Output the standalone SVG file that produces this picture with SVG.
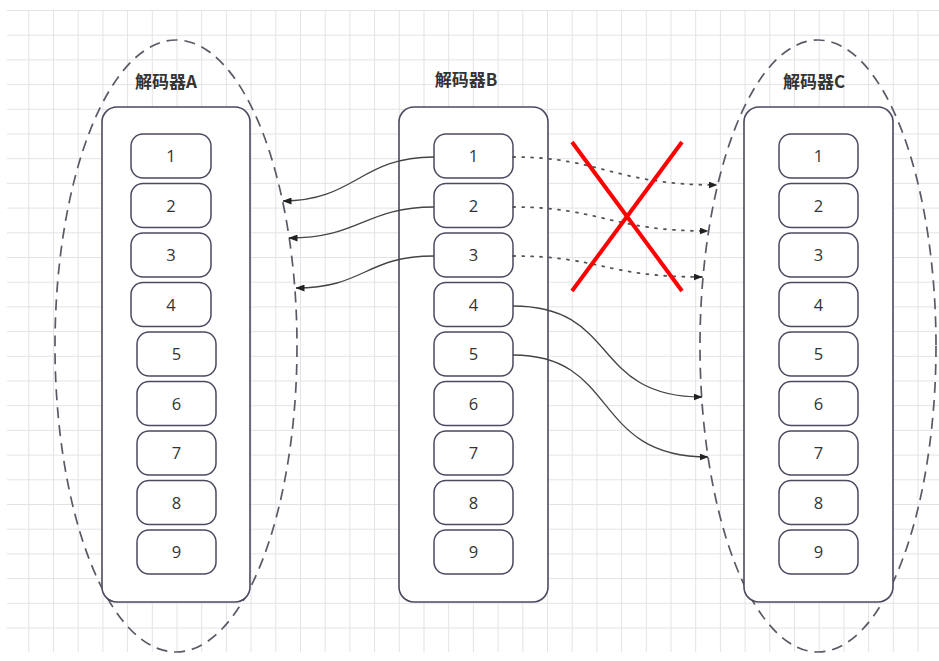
<svg xmlns="http://www.w3.org/2000/svg" width="939" height="661" viewBox="0 0 939 661">
<style>
.ell{fill:none;stroke:#5a5a66;stroke-width:1.7;stroke-dasharray:11 7}
.box{fill:#fff;stroke:#4a4a60;stroke-width:1.6}
.item{fill:#fff;stroke:#4a4a60;stroke-width:1.5}
.num{font-family:"Open Sans","Noto Sans",sans-serif;font-size:16.5px;fill:#333;text-anchor:middle}
.title{font-family:"Noto Sans CJK SC","Noto Sans",sans-serif;font-size:17px;font-weight:bold;fill:#333;text-anchor:middle}
.con{fill:none;stroke:#444;stroke-width:1.3}
.dot{fill:none;stroke:#555;stroke-width:1.8;stroke-dasharray:2 7;stroke-linecap:round}
.x{stroke:#f00;stroke-width:4}
</style>
<defs>
<pattern id="grid" x="3.6" y="10" width="24.7" height="24.7" patternUnits="userSpaceOnUse">
<path d="M0,0.5 H24.7 M0.5,0 V24.7" fill="none" stroke="#e3e3e6" stroke-width="1"/>
</pattern>
<marker id="arr" markerWidth="9" markerHeight="7" refX="8.5" refY="3.5" orient="auto" markerUnits="userSpaceOnUse">
<path d="M0,0 L9,3.5 L0,7 z" fill="#222"/>
</marker>
</defs>
<rect width="939" height="661" fill="#fff"/>
<rect x="7" y="10" width="932" height="642" fill="url(#grid)"/>

<g id="decoderA">
<ellipse class="ell" cx="176" cy="346" rx="121" ry="306"/>
<rect class="box" x="102" y="107" width="148" height="495" rx="15"/>
<text class="title" x="166" y="88">解码器A</text>
<rect class="item" x="131" y="134" width="80" height="44" rx="12"/><text class="num" x="171" y="162">1</text>
<rect class="item" x="131" y="183.5" width="80" height="44" rx="12"/><text class="num" x="171" y="211.5">2</text>
<rect class="item" x="131" y="233" width="80" height="44" rx="12"/><text class="num" x="171" y="261">3</text>
<rect class="item" x="131" y="282.5" width="80" height="44" rx="12"/><text class="num" x="171" y="310.5">4</text>
<rect class="item" x="137" y="332" width="79" height="44" rx="12"/><text class="num" x="176.5" y="360">5</text>
<rect class="item" x="137" y="381.5" width="79" height="44" rx="12"/><text class="num" x="176.5" y="409.5">6</text>
<rect class="item" x="137" y="431" width="79" height="44" rx="12"/><text class="num" x="176.5" y="459">7</text>
<rect class="item" x="137" y="480.5" width="79" height="44" rx="12"/><text class="num" x="176.5" y="508.5">8</text>
<rect class="item" x="137" y="530" width="79" height="44" rx="12"/><text class="num" x="176.5" y="558">9</text>
</g>

<g id="decoderB">
<rect class="box" x="399" y="107" width="149" height="495" rx="15"/>
<text class="title" x="466" y="86">解码器B</text>
<rect class="item" x="434" y="134" width="79" height="44" rx="12"/><text class="num" x="473.5" y="162">1</text>
<rect class="item" x="434" y="183.5" width="79" height="44" rx="12"/><text class="num" x="473.5" y="211.5">2</text>
<rect class="item" x="434" y="233" width="79" height="44" rx="12"/><text class="num" x="473.5" y="261">3</text>
<rect class="item" x="434" y="282.5" width="79" height="44" rx="12"/><text class="num" x="473.5" y="310.5">4</text>
<rect class="item" x="434" y="332" width="79" height="44" rx="12"/><text class="num" x="473.5" y="360">5</text>
<rect class="item" x="434" y="381.5" width="79" height="44" rx="12"/><text class="num" x="473.5" y="409.5">6</text>
<rect class="item" x="434" y="431" width="79" height="44" rx="12"/><text class="num" x="473.5" y="459">7</text>
<rect class="item" x="434" y="480.5" width="79" height="44" rx="12"/><text class="num" x="473.5" y="508.5">8</text>
<rect class="item" x="434" y="530" width="79" height="44" rx="12"/><text class="num" x="473.5" y="558">9</text>
</g>

<g id="decoderC">
<ellipse class="ell" cx="818" cy="346" rx="118" ry="306"/>
<rect class="box" x="744" y="107" width="149" height="495" rx="15"/>
<text class="title" x="814" y="88">解码器C</text>
<rect class="item" x="779" y="134" width="79" height="44" rx="12"/><text class="num" x="818.5" y="162">1</text>
<rect class="item" x="779" y="183.5" width="79" height="44" rx="12"/><text class="num" x="818.5" y="211.5">2</text>
<rect class="item" x="779" y="233" width="79" height="44" rx="12"/><text class="num" x="818.5" y="261">3</text>
<rect class="item" x="779" y="282.5" width="79" height="44" rx="12"/><text class="num" x="818.5" y="310.5">4</text>
<rect class="item" x="779" y="332" width="79" height="44" rx="12"/><text class="num" x="818.5" y="360">5</text>
<rect class="item" x="779" y="381.5" width="79" height="44" rx="12"/><text class="num" x="818.5" y="409.5">6</text>
<rect class="item" x="779" y="431" width="79" height="44" rx="12"/><text class="num" x="818.5" y="459">7</text>
<rect class="item" x="779" y="480.5" width="79" height="44" rx="12"/><text class="num" x="818.5" y="508.5">8</text>
<rect class="item" x="779" y="530" width="79" height="44" rx="12"/><text class="num" x="818.5" y="558">9</text>
</g>

<g id="connectors">
<path class="con" d="M434,157 C360,157 355,201 283,201" marker-end="url(#arr)"/>
<path class="con" d="M434,207 C365,207 360,238 289,238" marker-end="url(#arr)"/>
<path class="con" d="M434,256 C365,256 365,288 296,288" marker-end="url(#arr)"/>
<path class="dot" d="M513,157 C600,157 615,185 717,185" marker-end="url(#arr)"/>
<path class="dot" d="M513,207 C600,207 610,231 708,231" marker-end="url(#arr)"/>
<path class="dot" d="M513,256 C600,256 605,277 702,277" marker-end="url(#arr)"/>
<path class="con" d="M513,306 C620,306 590,397 702,397" marker-end="url(#arr)"/>
<path class="con" d="M513,355 C620,355 590,457 708,457" marker-end="url(#arr)"/>
</g>

<g id="cross">
<line class="x" x1="572" y1="142" x2="682" y2="291"/>
<line class="x" x1="682" y1="142" x2="572" y2="291"/>
</g>
</svg>
